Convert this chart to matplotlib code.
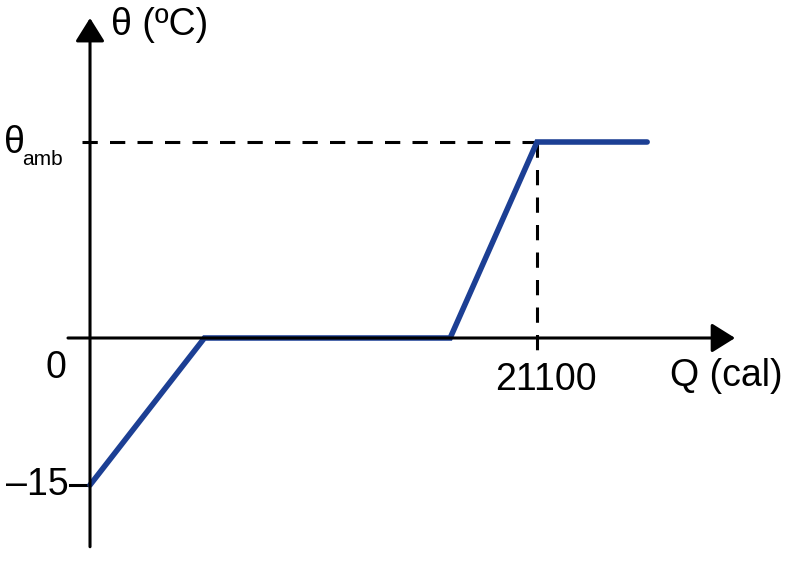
import matplotlib.pyplot as plt

# Heating curve (Q in cal, theta in degC)
q_points = [0, 5400, 17000, 21100, 26300]
theta_points = [-15, 0, 0, 20, 20]
q_mark = 21100
theta_amb = 20
theta_start = -15

plt.rcParams['font.family'] = ['Liberation Sans', 'DejaVu Sans']

fig = plt.figure(figsize=(7.87, 5.63), dpi=100)
ax = fig.add_axes([0, 0, 1, 1])
ax.set_xlim(-4249, 32901)
ax.set_ylim(-22.96, 34.49)
ax.axis('off')

# axes with arrows
arrow = dict(arrowstyle='-|>,head_length=0.4,head_width=0.25', mutation_scale=36,
             lw=2.2, color='black', shrinkA=0, shrinkB=0)
ax.annotate('', xy=(0, 32.65), xytext=(0, -21.3), arrowprops=arrow)
ax.annotate('', xy=(30450, 0), xytext=(-1040, 0), arrowprops=arrow)

# tick at -15
ax.plot([-940, 0], [theta_start, theta_start], color='black', lw=2.2)

# dashed guides
ax.plot([-380, q_mark], [theta_amb, theta_amb], color='black', lw=2.2,
        dashes=(5, 4))
ax.plot([q_mark, q_mark], [theta_amb, -1.95], color='black', lw=2.2,
        dashes=(5, 4))

# curve
ax.plot(q_points, theta_points, color='#1c3f94', lw=4,
        solid_capstyle='round', solid_joinstyle='miter')

fs = 27
ax.text(-1100, -3.1, '0', fontsize=fs, ha='right', va='center')
ax.text(-1000, theta_start, '\u201315', fontsize=fs, ha='right', va='center')
ax.text(q_mark + 400, -4.3, '21100', fontsize=fs, ha='center', va='center')
ax.text(27400, -3.85, 'Q (cal)', fontsize=fs, ha='left', va='center')
ax.text(1000, 31.9, '\u03b8 (\u00baC)', fontsize=fs, ha='left', va='center')
ax.text(-4050, 19.9, '\u03b8', fontsize=fs, ha='left', va='center')
ax.text(-3200, 18.2, 'amb', fontsize=15, ha='left', va='center')

fig.savefig('out.png', dpi=100)
